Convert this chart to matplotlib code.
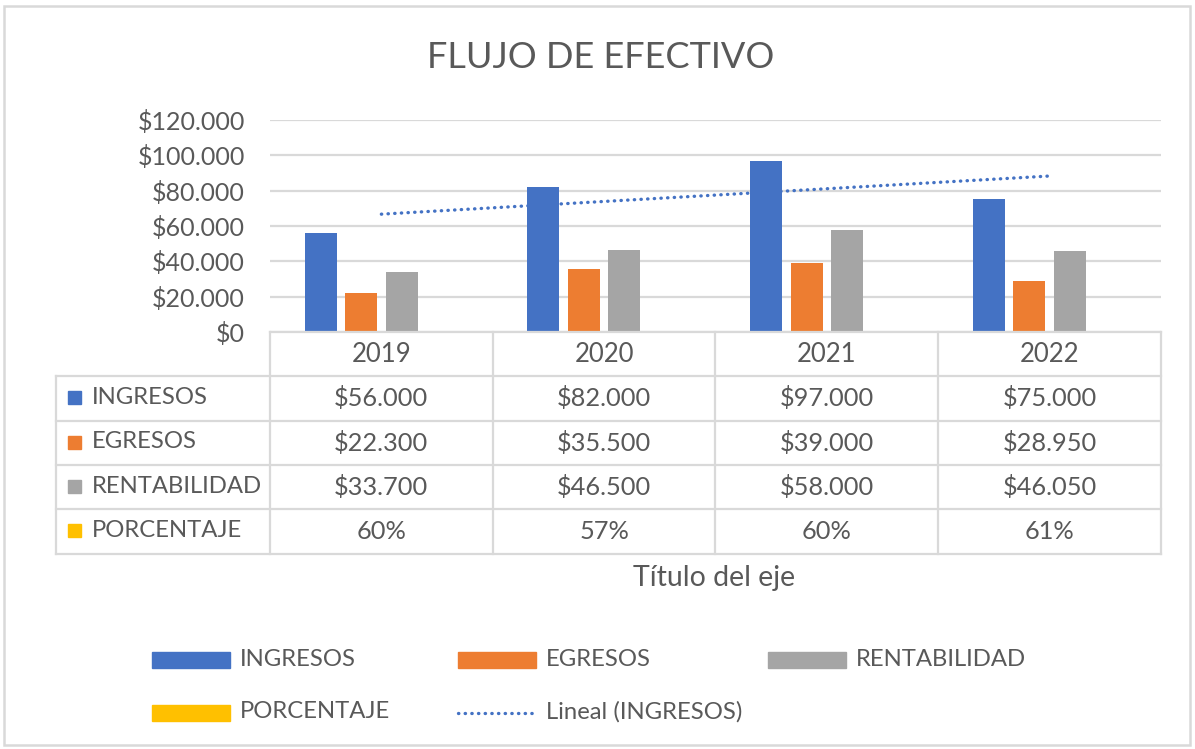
import numpy as np
from matplotlib import pyplot as plt
from matplotlib.patches import Rectangle

plt.rcParams['font.family'] = ['Lato', 'DejaVu Sans']

years = ["2019", "2020", "2021", "2022"]
series = ["INGRESOS", "EGRESOS", "RENTABILIDAD", "PORCENTAJE"]
ingresos = [56000, 82000, 97000, 75000]
egresos = [22300, 35500, 39000, 28950]
rentabilidad = [33700, 46500, 58000, 46050]
porcentaje = [0.60, 0.57, 0.60, 0.61]
colors = ["#4472C4", "#ED7D31", "#A5A5A5", "#FFC000"]
y_ticks = [0, 20000, 40000, 60000, 80000, 100000, 120000]

TXT = "#595959"
LINE = "#D9D9D9"
W, H = 1195, 749

def money(v):
    return "$" + f"{v:,.0f}".replace(",", ".")

def pct(v):
    return f"{v*100:.0f}%"

# layout in pixels
plot_l, plot_r, plot_top, plot_bot = 270, 1161, 120, 332
col_w = (plot_r - plot_l) / len(years)
row_h = 44.3
tab_l = 56

fig = plt.figure(figsize=(W/100, H/100), dpi=100)

ax = fig.add_axes([plot_l/W, 1 - plot_bot/H, (plot_r - plot_l)/W, (plot_bot - plot_top)/H])
ax.set_xlim(-0.5, len(years) - 0.5)
ax.set_ylim(0, 120000)
ax.set_yticks(y_ticks)
ax.set_yticklabels([money(t) for t in y_ticks], fontsize=18, color=TXT)
ax.tick_params(axis='y', length=0, pad=18)
ax.set_xticks([])
ax.yaxis.grid(True, color=LINE, linewidth=1.6)
ax.set_axisbelow(True)
for s in ax.spines.values():
    s.set_visible(False)
ax.patch.set_alpha(0)

values = [ingresos, egresos, rentabilidad, porcentaje]
bw = 32 / col_w
step = 40.5 / col_w
x = np.arange(len(years))
for i, vals in enumerate(values):
    ax.bar(x + (i - 1.5) * step, vals, width=bw, color=colors[i], zorder=2)

# linear trend of ingresos
coef = np.polyfit(x, ingresos, 1)
ax.plot(x, np.polyval(coef, x), color=colors[0], linewidth=2.4,
        linestyle=(0, (0.1, 1.9)), dash_capstyle='round', zorder=3)

# overlay in pixel coordinates for the data table, legend and frame
ov = fig.add_axes([0, 0, 1, 1])
ov.set_xlim(0, W)
ov.set_ylim(H, 0)
ov.axis('off')
ov.patch.set_alpha(0)

ov.add_patch(Rectangle((4, 6), 1186, 739, fill=False, edgecolor=LINE, linewidth=1.8))

ov.text(601, 57, "FLUJO DE EFECTIVO", fontsize=26, color=TXT, ha='center', va='center')

edges = plot_l + col_w * np.arange(len(years) + 1)
tab_bot = plot_bot + row_h * (len(series) + 1)
lw = 1.6
# header row
ov.plot([plot_l, plot_r], [plot_bot, plot_bot], color=LINE, linewidth=lw)
for e in edges:
    ov.plot([e, e], [plot_bot, tab_bot], color=LINE, linewidth=lw)
ov.plot([tab_l, tab_l], [plot_bot + row_h, tab_bot], color=LINE, linewidth=lw)
for r in range(1, len(series) + 2):
    yy = plot_bot + r * row_h
    ov.plot([tab_l, plot_r], [yy, yy], color=LINE, linewidth=lw)

for j, yr in enumerate(years):
    ov.text((edges[j] + edges[j+1]) / 2, plot_bot + row_h / 2, yr,
            fontsize=18.5, color=TXT, ha='center', va='center')

for i, name in enumerate(series):
    yc = plot_bot + (i + 1.5) * row_h
    ov.add_patch(Rectangle((68, yc - 7), 13, 13, color=colors[i]))
    ov.text(92, yc - 1, name, fontsize=17.2, color=TXT, ha='left', va='center')
    for j in range(len(years)):
        v = values[i][j]
        label = pct(v) if name == "PORCENTAJE" else money(v)
        ov.text((edges[j] + edges[j+1]) / 2, yc, label,
                fontsize=18.3, color=TXT, ha='center', va='center')

ov.text((plot_l + plot_r) / 2 - 1, 578, "Título del eje", fontsize=20.5, color=TXT,
        ha='center', va='center')

# legend
leg_items = [(152, 660, 0), (458, 660, 1), (768, 660, 2), (152, 713, 3)]
for lx, ly, i in leg_items:
    ov.add_patch(Rectangle((lx, ly - 8), 78, 16, color=colors[i]))
    ov.text(lx + 88, ly - 1, series[i], fontsize=17.2, color=TXT, ha='left', va='center')
ov.plot([458, 537], [713, 713], color=colors[0], linewidth=2.4,
        linestyle=(0, (0.1, 1.9)), dash_capstyle='round')
ov.text(546, 712, "Lineal (INGRESOS)", fontsize=17.2, color=TXT, ha='left', va='center')

fig.savefig("out.png", dpi=100)
